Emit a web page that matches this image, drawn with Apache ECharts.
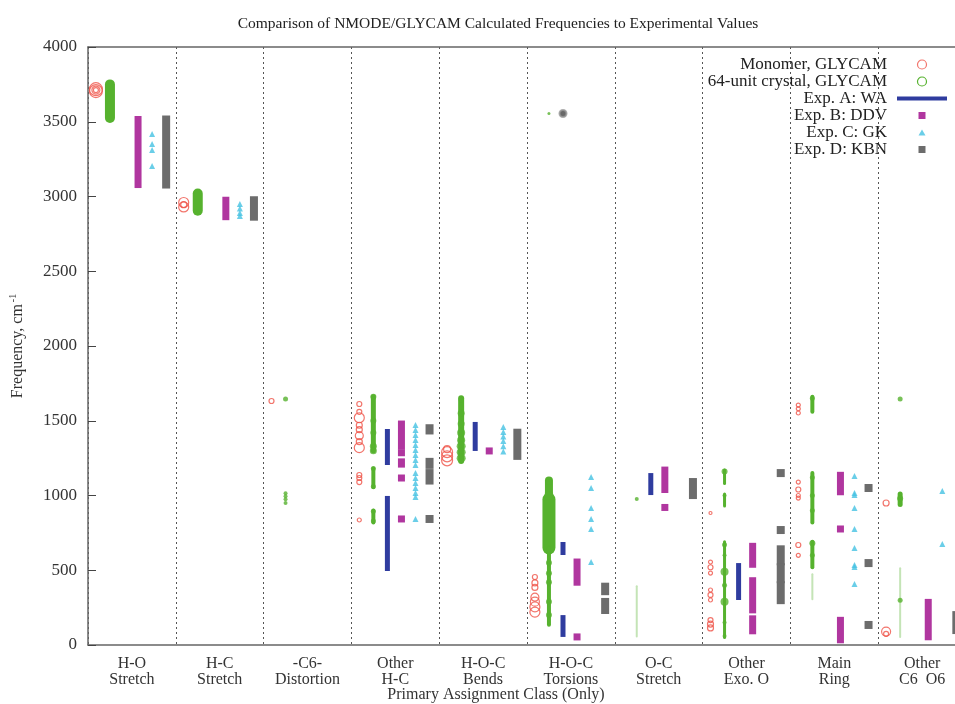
<!DOCTYPE html>
<html><head><meta charset="utf-8">
<script src="https://cdn.jsdelivr.net/npm/echarts@6/dist/echarts.min.js"></script>
<style>html,body{margin:0;padding:0;background:#fff}#c{width:955px;height:704px}</style>
</head><body><div id="c"></div>
<script>
const categories = ['H-O\nStretch','H-C\nStretch','-C6-\nDistortion','Other\nH-C','H-O-C\nBends','H-O-C\nTorsions','O-C\nStretch','Other\nExo. O','Main\nRing','Other\nC6  O6'];
const yTicks = [0,500,1000,1500,2000,2500,3000,3500,4000];

// Monomer, GLYCAM: [category, frequency, multiplicity]
const monomer = [
 [0,3705,13],[0,3718,13],[0,3712,8],[0,3712,5],
 [1,2930,10],[1,2960,10],[1,2945,6],
 [2,1632,5],
 [3,1612,5],[3,1560,5],[3,1520,10],[3,1470,6],[3,1440,6],[3,1400,8],[3,1360,6],[3,1320,10],[3,1137,5],[3,1117,5],[3,1090,5],[3,836,4],
 [4,1235,11],[4,1262,11],[4,1290,11],[4,1310,7],
 [5,455,5],[5,415,6],[5,385,6],[5,320,8],[5,290,9],[5,255,10],[5,220,10],
 [7,883,3],[7,555,4],[7,520,5],[7,481,4],[7,368,4],[7,335,5],[7,301,4],[7,167,5],[7,140,6],[7,114,6],
 [8,1605,4],[8,1580,4],[8,1552,4],[8,1090,4],[8,1040,5],[8,1000,4],[8,983,4],[8,669,5],[8,600,4],
 [9,950,6],[9,90,9],[9,75,5]
];
// 64-unit crystal, GLYCAM: individual modes [category, frequency, multiplicity]
const crystal = [
 [2,1645,5],[2,1015,4],[2,995,4],[2,975,4],[2,950,4],
 [3,1660,6],[3,1500,6],[3,1420,6],[3,1330,7],[3,1300,7],[3,1180,5],[3,1060,5],[3,895,5],[3,830,5],
 [4,1640,5],[4,1550,7],[4,1480,7],[4,1420,8],[4,1370,8],[4,1330,9],[4,1290,9],[4,1250,9],
 [5,3555,3],[5,1090,6],[5,1000,9],[5,550,6],[5,480,6],[5,420,6],[5,290,6],[5,200,6],
 [6,977,4],
 [7,1160,6],[7,1000,4],[7,670,5],[7,600,4],[7,490,8],[7,400,5],[7,290,8],[7,150,4],[7,60,4],
 [8,1650,5],[8,1120,5],[8,1000,5],[8,900,5],[8,680,6],[8,600,5],
 [9,1645,5],[9,980,6],[9,300,5]
];
// 64-unit crystal, GLYCAM: dense runs of modes [category, low, high, density]
const crystalRuns = [
 [0,3525,3750,10],[1,2905,3020,10],
 [3,1300,1660,5],[3,1055,1180,4],[3,820,900,4],
 [4,1230,1650,6],
 [5,970,1100,8],[5,650,975,13],[5,135,650,4],
 [6,50,400,0],
 [7,1080,1170,3],[7,930,1010,3],[7,50,690,3],
 [8,1560,1660,4],[8,820,1150,4],[8,520,690,4],[8,300,480,0],
 [9,940,1010,5],[9,47,520,0]
];
// Exp. A: WA ranges [category, low, high]
const expWA = [[3,1204,1445],[3,495,997],[4,1298,1492],[5,602,689],[5,54,200],[6,1003,1150],[7,301,548]];
// Exp. B: DDV ranges [category, low, high]
const expDDV = [[0,3080,3515],[1,2865,2975],[3,1330,1478],[3,1286,1286],[3,1210,1225],[3,1117,1117],[3,843,843],
 [4,1298,1298],[5,420,555],[5,54,54],[6,1040,1170],[6,920,920],[7,540,660],[7,235,430],[7,95,175],
 [8,1025,1135],[8,776,776],[8,35,165],[9,55,285]];
// Exp. C: GK [category, frequency]
const expGK = [[0,3418],[0,3351],[0,3311],[0,3204],[1,2950],[1,2920],[1,2890],[1,2870],
 [3,1471],[3,1438],[3,1405],[3,1371],[3,1338],[3,1304],[3,1271],[3,1237],[3,1204],[3,1150],[3,1117],[3,1084],[3,1050],[3,1017],[3,990],[3,843],
 [4,1458],[4,1425],[4,1395],[4,1365],[4,1330],[4,1295],
 [5,1124],[5,1050],[5,916],[5,843],[5,776],[5,555],
 [8,1130],[8,1017],[8,1003],[8,916],[8,776],[8,649],[8,535],[8,522],[8,408],
 [9,1030],[9,676]];
// Exp. D: KBN ranges [category, low, high]
const expKBN = [[0,3080,3515],[1,2865,2975],[3,1435,1450],[3,1205,1225],[3,1100,1150],[3,843,843],[4,1265,1420],
 [5,360,390],[5,234,288],[6,1003,1090],[7,1150,1150],[7,769,769],[7,560,640],[7,440,520],[7,300,400],
 [8,1050,1050],[8,548,548],[8,134,134],[9,100,200]];
// stray mode drawn above the torsion class
const strayMode = [[5,3555]];

const OFF = {mono:0.09, cry:0.25, wa:0.41, ddv:0.57, gk:0.73, kbn:0.89};
const C = {red:'#ef5347', green:'#56b22e', blue:'#2f3c9f', mag:'#b0369f', cyan:'#45c2e2', gray:'#6c6c6c'};
const FONT = 'Liberation Serif';

const pts = (arr, off) => arr.map(d => [d[0]+off, d[1], d[2]]);
const rng = (arr, off) => arr.map(d => [d[0]+off, d[1], d[2], d[3]]);

function rangeRender(w, ext, color) {
  return function(params, api) {
    const x = api.value(0);
    const top = api.coord([x, api.value(2)]);
    const bot = api.coord([x, api.value(1)]);
    return {type:'rect', shape:{x: top[0]-w/2, y: top[1]-ext, width: w, height: bot[1]-top[1]+2*ext},
      style:{fill: color}};
  };
}
function runRender(params, api) {
  const x = api.value(0);
  const dens = api.value(3);
  const top = api.coord([x, api.value(2)]);
  const bot = api.coord([x, api.value(1)]);
  const w = dens > 0 ? dens : 2;
  const ext = dens > 0 ? w/2 : 0;
  return {type:'rect', shape:{x: top[0]-w/2, y: top[1]-ext, width: w, height: bot[1]-top[1]+2*ext, r: w/2},
    style:{fill: dens > 0 ? C.green : 'rgba(86,178,46,0.35)'}};
}

const chart = echarts.init(document.getElementById('c'));
chart.setOption({
  animation:false,
  backgroundColor:'#fff',
  title:{text:'Comparison of NMODE/GLYCAM Calculated Frequencies to Experimental Values',
    left:493, top:11, textAlign:'center',
    textStyle:{fontFamily:FONT, fontSize:15.5, fontWeight:'normal', color:'#222'}},
  grid:{left:88, top:47, width:878, height:598, containLabel:false, outerBoundsMode:'none'},
  legend:{
    orient:'vertical', align:'right', right:8, top:56, padding:0, itemGap:0,
    itemWidth:50, itemHeight:9, selectedMode:false,
    textStyle:{fontFamily:FONT, fontSize:17, color:'#222', lineHeight:17, padding:[0,5,0,0]},
    data:[
      {name:'Monomer, GLYCAM', icon:'circle', itemStyle:{color:'#fff', borderColor:C.red, borderWidth:1.2}},
      {name:'64-unit crystal, GLYCAM', icon:'circle', itemStyle:{color:'#fff', borderColor:C.green, borderWidth:1.2}},
      {name:'Exp. A: WA', icon:'path://M0,0H50V4H0Z', itemStyle:{color:C.blue}},
      {name:'Exp. B: DDV', icon:'path://M0,0M9,9M1,1L8,1L8,8L1,8Z', itemStyle:{color:C.mag}},
      {name:'Exp. C: GK', icon:'path://M0,0M9,9M4.5,1.5L8,7.5L1,7.5Z', itemStyle:{color:C.cyan}},
      {name:'Exp. D: KBN', icon:'path://M0,0M9,9M1,1L8,1L8,8L1,8Z', itemStyle:{color:C.gray}}
    ]
  },
  xAxis:[
    {type:'category', data:categories, position:'bottom', boundaryGap:true,
     axisLine:{lineStyle:{color:'#666', width:1.5}},
     axisTick:{inside:true, length:5, lineStyle:{color:'#444'}},
     axisLabel:{interval:0, fontFamily:FONT, fontSize:16, lineHeight:16, color:'#333', margin:11},
     splitLine:{show:true, lineStyle:{type:[2,3], color:'#555', width:1}},
     name:'Primary Assignment Class (Only)', nameLocation:'middle', nameGap:42, nameMoveOverlap:false,
     nameTextStyle:{fontFamily:FONT, fontSize:16, color:'#333', lineHeight:16, verticalAlign:'top', padding:[0,62,0,0]}},
    {type:'value', min:0, max:10, show:false},
    {type:'category', data:categories, position:'top', boundaryGap:true,
     axisLine:{lineStyle:{color:'#666', width:1.5}},
     axisTick:{inside:true, length:5, lineStyle:{color:'#444'}},
     axisLabel:{show:false}, splitLine:{show:false}}
  ],
  yAxis:{type:'value', min:yTicks[0], max:yTicks[yTicks.length-1], interval:yTicks[1]-yTicks[0],
    axisLine:{show:true, lineStyle:{color:'#666', width:1.5}},
    axisTick:{show:true, inside:true, length:8, lineStyle:{color:'#444'}},
    axisLabel:{fontFamily:FONT, fontSize:17, color:'#333', margin:11, formatter:v => String(v)},
    splitLine:{show:false},
    name:'Frequency, cm{sup|-1}', nameLocation:'middle', nameRotate:90, nameGap:60, nameMoveOverlap:false,
    nameTextStyle:{fontFamily:FONT, fontSize:16, color:'#333',
      rich:{sup:{fontFamily:FONT, fontSize:10, verticalAlign:'bottom', padding:[0,0,10,2], color:'#333'}}}},
  series:[
    {name:'64-unit crystal, GLYCAM', type:'custom', xAxisIndex:1, renderItem:runRender,
     data:rng(crystalRuns, OFF.cry), encode:{x:0, y:[1,2]}, silent:true},
    {name:'64-unit crystal, GLYCAM', type:'scatter', xAxisIndex:1, data:pts(crystal, OFF.cry),
     symbol:'circle', symbolSize:v => v[2], itemStyle:{color:C.green}, silent:true},
    {name:'Monomer, GLYCAM', type:'scatter', xAxisIndex:1, data:pts(monomer, OFF.mono),
     symbol:'circle', symbolSize:v => v[2],
     itemStyle:{color:'rgba(255,255,255,0)', borderColor:C.red, borderWidth:1.2}, silent:true},
    {name:'Exp. A: WA', type:'custom', xAxisIndex:1, renderItem:rangeRender(5, 0, C.blue),
     data:rng(expWA, OFF.wa), encode:{x:0, y:[1,2]}, silent:true},
    {name:'Exp. B: DDV', type:'custom', xAxisIndex:1, renderItem:rangeRender(7, 3.5, C.mag),
     data:rng(expDDV, OFF.ddv), encode:{x:0, y:[1,2]}, silent:true},
    {name:'Exp. C: GK', type:'scatter', xAxisIndex:1, data:pts(expGK, OFF.gk),
     symbol:'triangle', symbolSize:[6,6], itemStyle:{color:C.cyan}, silent:true},
    {name:'Exp. D: KBN', type:'custom', xAxisIndex:1, renderItem:rangeRender(8, 4, C.gray),
     data:rng(expKBN, OFF.kbn), encode:{x:0, y:[1,2]}, silent:true},
    {name:'stray', type:'scatter', xAxisIndex:1, data:pts(strayMode, OFF.wa),
     symbol:'circle', symbolSize:7, itemStyle:{color:'#444', borderColor:'#999', borderWidth:2}, silent:true}
  ]
});
</script></body></html>
